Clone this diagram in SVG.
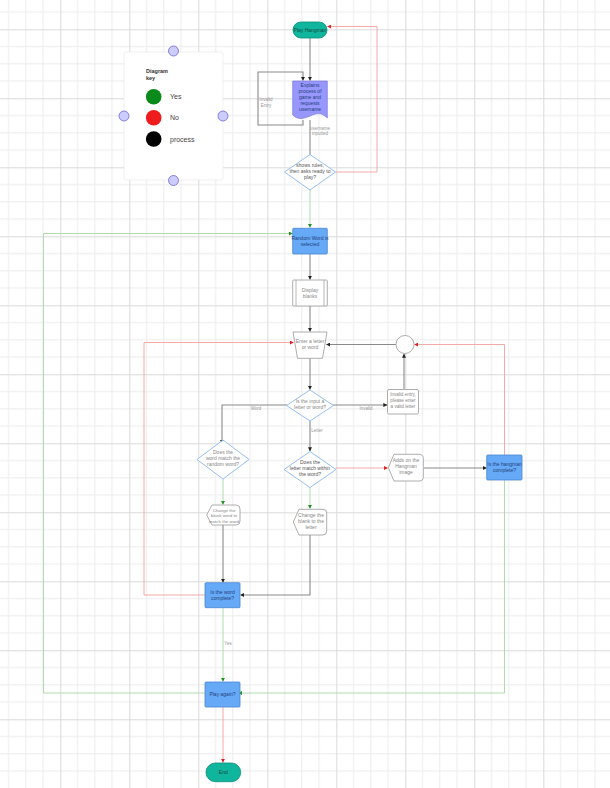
<svg xmlns="http://www.w3.org/2000/svg" width="610" height="788" viewBox="0 0 610 788">
<defs>
<pattern id="grid" x="60.3" y="29.3" width="69" height="69" patternUnits="userSpaceOnUse">
<path d="M17.25 0V69M34.5 0V69M51.75 0V69M0 17.25H69M0 34.5H69M0 51.75H69" stroke="#ececec" stroke-width="1" fill="none"/>
<path d="M0.5 0V69M0 0.5H69" stroke="#dadada" stroke-width="1" fill="none"/>
</pattern>
<marker id="ak" viewBox="0 0 6 6" refX="5.5" refY="3" markerWidth="4" markerHeight="4" orient="auto" markerUnits="userSpaceOnUse"><path d="M0 0L6 3L0 6Z" fill="#222"/></marker>
<marker id="ar" viewBox="0 0 6 6" refX="5.5" refY="3" markerWidth="4" markerHeight="4" orient="auto" markerUnits="userSpaceOnUse"><path d="M0 0L6 3L0 6Z" fill="#e02020"/></marker>
<marker id="ag" viewBox="0 0 6 6" refX="5.5" refY="3" markerWidth="4" markerHeight="4" orient="auto" markerUnits="userSpaceOnUse"><path d="M0 0L6 3L0 6Z" fill="#209020"/></marker>
</defs>
<style>
text{font-family:"Liberation Sans",Arial,sans-serif;font-size:5px;text-anchor:middle}
.gray{fill:#ffffff;stroke:#999;stroke-width:0.8}
.blue{fill:#66aaf7;stroke:#4a86d0;stroke-width:0.8}
.teal{fill:#10b59e;stroke:#0b8f7c;stroke-width:0.8}
.dia{fill:#ffffff;stroke:#8ab8f0;stroke-width:0.9}
.tg{fill:#888}
.td{fill:#555}
.tb{fill:#24407a}
.ck{fill:none;stroke:#8a8a8a;stroke-width:1.1;marker-end:url(#ak)}
.cr{fill:none;stroke:#f4a0a0;stroke-width:0.9;marker-end:url(#ar)}
.cg{fill:none;stroke:#a6d8a6;stroke-width:0.9;marker-end:url(#ag)}
.lbl{fill:#999;font-size:4.5px}
.h{fill:#ccccff;stroke:#6a6ad0;stroke-width:0.8}
.kt{text-anchor:start;font-size:7px;fill:#444}
</style>
<rect width="610" height="788" fill="#ffffff"/>
<rect width="610" height="788" fill="url(#grid)"/>

<g id="key">
<rect x="124" y="52" width="99" height="128" rx="2" fill="#ffffff" stroke="#e6e6e6" stroke-width="0.6"/>
<text x="146" y="73" style="font-weight:bold;text-anchor:start;font-size:5.5px" fill="#333">Diagram</text>
<text x="146" y="80" style="font-weight:bold;text-anchor:start;font-size:5.5px" fill="#333">key</text>
<circle cx="153.7" cy="96.7" r="7.8" fill="#0a8a1a"/>
<circle cx="153.7" cy="117.7" r="7.8" fill="#ee1c1c"/>
<circle cx="153.7" cy="139" r="7.8" fill="#000000"/>
<text class="kt" x="170" y="99">Yes</text>
<text class="kt" x="170" y="120">No</text>
<text class="kt" x="170" y="141.5">process</text>
<circle class="h" cx="173.5" cy="51" r="5"/>
<circle class="h" cx="124" cy="116" r="5"/>
<circle class="h" cx="223" cy="116" r="5"/>
<circle class="h" cx="173.5" cy="180.5" r="5"/>
</g>

<g id="connectors">
<path class="ck" d="M310 38V80.5"/>
<path class="ck" d="M303 120V125H258V72H303V80.5"/>
<text class="lbl" x="266" y="101">Invalid</text>
<text class="lbl" x="266" y="107">Entry</text>
<path class="ck" d="M310 120V159.5"/>
<text class="lbl" x="320" y="130">username</text>
<text class="lbl" x="320" y="135">inputted</text>
<path class="cr" d="M335.5 172H377V26.5H327.5"/>
<path class="cg" d="M310 190V227.5"/>
<path class="cg" d="M205 693H43.5V233.5H292.5"/>
<path class="ck" d="M310 254V279.5"/>
<path class="ck" d="M310 306V331.5"/>
<path class="ck" d="M396 344.5H326.5"/>
<path class="cr" d="M205 595H144V342.5H293.5"/>
<path class="cr" d="M504.5 455V344.5H414.5"/>
<path class="ck" d="M310 358V389.5"/>
<path class="ck" d="M287 405H222V443.5"/>
<text class="lbl" x="256" y="410">Word</text>
<path class="ck" d="M333 405H387"/>
<text class="lbl" x="366" y="410">Invalid</text>
<path class="ck" d="M310 421V451"/>
<text class="lbl" x="317" y="432">Letter</text>
<path class="ck" d="M404 389V354"/>
<path class="cg" d="M223 479V504.5"/>
<path class="cg" d="M310 487V508.5"/>
<path class="cr" d="M336 468H387.5"/>
<path class="ck" d="M423.5 468H486.5"/>
<path class="cg" d="M504.5 480V693H238.5"/>
<path class="ck" d="M223 525V582.5"/>
<path class="ck" d="M310 535V595H240.5"/>
<path class="cg" d="M223 608V681.5"/>
<text class="lbl" x="228" y="645">Yes</text>
<path class="cr" d="M223 707V762.5"/>
</g>

<g id="play-hangman">
<rect class="teal" x="293" y="22" width="34" height="16" rx="8"/>
<text x="310" y="31.8" fill="#114a40">Play Hangman</text>
</g>

<g id="explains">
<path d="M292.7 81H327.3V118C321 112 317 113 310 116C303 119 298 120 292.7 115Z" fill="#9797ff" stroke="#7a7ad8" stroke-width="0.7"/>
<text class="tb" x="310" y="87">Explains</text>
<text class="tb" x="310" y="93">process of</text>
<text class="tb" x="310" y="99">game and</text>
<text class="tb" x="310" y="105">requests</text>
<text class="tb" x="310" y="111">username</text>
</g>

<g id="ready">
<path class="dia" d="M310 154.5L335.5 172L310 190L284.5 172Z"/>
<text class="td" x="310" y="167">shows rules,</text>
<text class="td" x="310" y="173">then asks ready to</text>
<text class="td" x="310" y="179">play?</text>
</g>

<g id="random-word">
<rect class="blue" x="292.7" y="228.3" width="34.6" height="25.7" rx="1"/>
<text class="tb" x="310" y="239.5">Random Word is</text>
<text class="tb" x="310" y="245.5">selected</text>
</g>

<g id="display">
<rect class="gray" x="292.7" y="280" width="34.6" height="26" rx="1"/>
<path d="M296 280V306M324 280V306" stroke="#999" stroke-width="0.7"/>
<text class="tg" x="310" y="291.5">Display</text>
<text class="tg" x="310" y="297.5">blanks</text>
</g>

<g id="enter">
<path class="gray" d="M293 332H327L322.5 358.3H297.5Z"/>
<text class="tg" x="310" y="343">Enter a letter</text>
<text class="tg" x="310" y="349">or word</text>
</g>

<g id="connector-circle">
<circle cx="405" cy="344.5" r="9" fill="#ffffff" stroke="#999" stroke-width="0.8"/>
</g>

<g id="letter-or-word">
<path class="dia" d="M310 390L333.5 405.5L310 421L286.5 405.5Z"/>
<text class="tg" x="310" y="403">Is the input a</text>
<text class="tg" x="310" y="409">letter or word?</text>
</g>

<g id="invalid">
<rect class="gray" x="387.5" y="389.5" width="31" height="24.5" rx="1.5"/>
<text class="tg" x="403" y="396" style="font-size:4.6px">Invalid entry,</text>
<text class="tg" x="403" y="402" style="font-size:4.6px">please enter</text>
<text class="tg" x="403" y="408" style="font-size:4.6px">a valid letter</text>
</g>

<g id="word-match">
<path class="dia" d="M223 440L249 459.5L223 479L197 459.5Z"/>
<text class="tg" x="223" y="454">Does the</text>
<text class="tg" x="223" y="460">word match the</text>
<text class="tg" x="223" y="466">random word?</text>
</g>

<g id="letter-match">
<path class="dia" d="M310 451.5L336 469.5L310 487.5L284 469.5Z"/>
<text class="td" x="310" y="464">Does the</text>
<text class="td" x="310" y="470">letter match within</text>
<text class="td" x="310" y="476">the word?</text>
</g>

<g id="change-word">
<path class="gray" d="M206.7 515L212 505H236Q240 505 240 509V521Q240 525 236 525H212Z"/>
<text class="tg" x="224" y="512" style="font-size:4.4px">Change the</text>
<text class="tg" x="224" y="517.3" style="font-size:4.4px">blank word to</text>
<text class="tg" x="224" y="522.6" style="font-size:4.4px">match the word</text>
</g>

<g id="change-letter">
<path class="gray" d="M293.3 522L299 509.3H323Q326.7 509.3 326.7 513V531Q326.7 535 323 535H299Z"/>
<text class="tg" x="311" y="517">Change the</text>
<text class="tg" x="311" y="523">blank to the</text>
<text class="tg" x="311" y="529">letter</text>
</g>

<g id="adds-hangman">
<path class="gray" d="M388.3 467.7L394 454.3H419Q423.3 454.3 423.3 458.5V477Q423.3 481 419 481H394Z"/>
<text class="tg" x="406" y="462">Adds on the</text>
<text class="tg" x="406" y="468">Hangman</text>
<text class="tg" x="406" y="474">image</text>
</g>

<g id="hangman-complete">
<rect class="blue" x="486.7" y="455" width="35.3" height="25" rx="1"/>
<text class="tb" x="504.5" y="466">Is the hangman</text>
<text class="tb" x="504.5" y="472">complete?</text>
</g>

<g id="word-complete">
<rect class="blue" x="205" y="582.7" width="35" height="25" rx="1"/>
<text class="tb" x="222.5" y="593.5">Is the word</text>
<text class="tb" x="222.5" y="599.5">complete?</text>
</g>

<g id="play-again">
<rect class="blue" x="205" y="682" width="35" height="25" rx="1"/>
<text class="tb" x="222.5" y="696">Play again?</text>
</g>

<g id="end">
<rect class="teal" x="206" y="763" width="34.7" height="18.7" rx="9.3"/>
<text x="223.3" y="774" fill="#114a40">End</text>
</g>
</svg>
